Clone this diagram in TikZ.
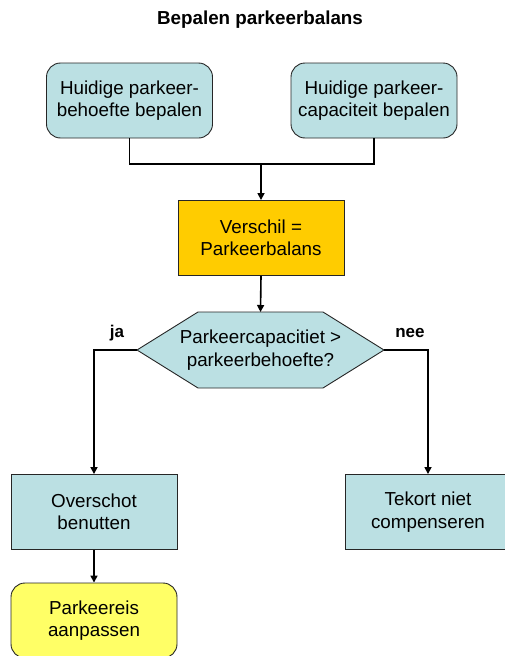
\documentclass[tikz,border=0pt]{standalone}
\usepackage{fontspec}
\setmainfont{Liberation Sans}
\usetikzlibrary{arrows.meta,shapes.misc}
\definecolor{lblue}{HTML}{BBE0E3}
\definecolor{orangebox}{HTML}{FFCC00}
\definecolor{yellowbox}{HTML}{FFFF66}
\tikzset{
  box/.style={draw=black!85, line width=0.9pt, minimum width=166pt, minimum height=75pt,
    align=center, inner sep=0pt, font=\fontsize{18.8}{22.5}\selectfont},
  roundbox/.style={box, rounded corners=14pt},
  conn/.style={line width=1.6pt, black},
  arr/.style={conn, -{Triangle[length=7pt,width=7pt]}},
  lbl/.style={font=\bfseries\fontsize{17}{20}\selectfont, anchor=base}
}
\begin{document}
\begin{tikzpicture}[x=1pt,y=-1pt]
\useasboundingbox (0,0) rectangle (505,656);
\clip (0,0) rectangle (505,656);
\node[font=\bfseries\fontsize{18.8}{22}\selectfont] (title) at (260,20) {Bepalen parkeerbalans};

\node[roundbox, fill=lblue] (b1) at (129.5,100.5) {Huidige parkeer-\\behoefte bepalen};
\node[roundbox, fill=lblue] (b2) at (374,100.5) {Huidige parkeer-\\capaciteit bepalen};
\node[box, fill=orangebox] (b3) at (261,238) {Verschil =\\Parkeerbalans};

\filldraw[fill=lblue, draw=black!85, line width=0.9pt]
  (137,350) -- (198,312) -- (323,312) -- (384,350) -- (323,388) -- (198,388) -- cycle;
\node[align=center, font=\fontsize{18.8}{22.5}\selectfont] (hex) at (260.5,350) {Parkeercapacitiet >\\parkeerbehoefte?};
\coordinate (hexL) at (137,350);
\coordinate (hexR) at (384,350);
\coordinate (hexT) at (260.5,312);

\node[box, fill=lblue] (b4) at (94,512) {Overschot\\benutten};
\node[box, fill=lblue] (b5) at (428,512) {Tekort niet\\compenseren};
\node[roundbox, fill=yellowbox] (b6) at (94,620.5) {Parkeereis\\aanpassen};

\coordinate (join) at (261,164);
\draw[conn] (b1.south) |- (join) -| (b2.south);
\draw[arr] (join) -- (b3.north);
\draw[arr] (b3.south) -- (hexT);
\draw[arr] (hexL) -| (b4.north);
\draw[arr] (hexR) -| (b5.north);
\draw[arr] (b4.south) -- (b6.north);

\node[lbl] (ja) at (117,337) {ja};
\node[lbl] (nee) at (410,337) {nee};
\end{tikzpicture}
\end{document}
